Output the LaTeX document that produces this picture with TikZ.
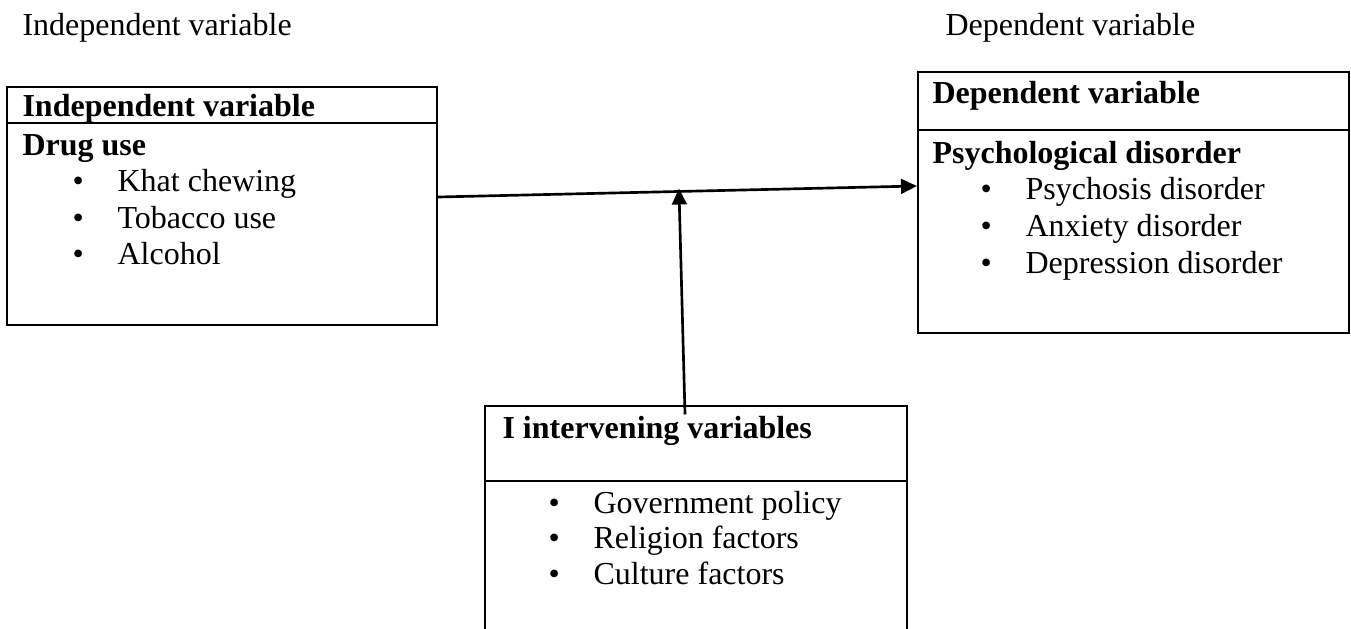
\documentclass[tikz,border=0pt]{standalone}
\usepackage{fontspec}
\setmainfont{Liberation Serif}
\usetikzlibrary{arrows.meta,positioning,fit,calc}
\tikzset{
  box/.style={draw, line width=0.75pt, inner sep=0pt},
  rule/.style={line width=0.75pt},
  txt/.style={anchor=base west, inner sep=0pt, font=\fontsize{12}{14}\selectfont},
  head/.style={txt, font=\fontsize{12}{14}\selectfont\bfseries},
  link/.style={line width=1pt, -{Triangle[length=6pt,width=5.5pt]}}
}
\newcommand{\itm}[1]{\makebox[16.9pt][l]{\textbullet}#1}
\begin{document}
\begin{tikzpicture}[x=0.375pt,y=-0.375pt]
\useasboundingbox (0,0) rectangle (1351,628);
\node[txt] (toplft) at (22,35) {Independent variable};
\node[txt] (toprgt) at (945,35) {Dependent variable};

\node[box, fit={(7,87) (437,325)}] (indep) {};
\draw[rule] ($(indep.north west)+(0,37)$) -- ($(indep.north east)+(0,37)$);
\node[head] (indephd) at (22,116) {Independent variable};
\node[head] (drug) at (22,155) {Drug use};
\node[txt] (khat) at (72,191) {\itm{Khat chewing}};
\node[txt] (tobac) at (72,228) {\itm{Tobacco use}};
\node[txt] (alco) at (72,264) {\itm{Alcohol}};

\node[box, fit={(918,72) (1349,333)}] (dep) {};
\draw[rule] ($(dep.north west)+(0,59)$) -- ($(dep.north east)+(0,59)$);
\node[head] (dephd) at (932,103) {Dependent variable};
\node[head] (psych) at (932,163) {Psychological disorder};
\node[txt] (psycho) at (980,199) {\itm{Psychosis disorder}};
\node[txt] (anx) at (980,236) {\itm{Anxiety disorder}};
\node[txt] (depr) at (980,273) {\itm{Depression disorder}};

\node[fit={(486,407) (906,628)}, inner sep=0pt] (interv) {};
\draw[rule] (interv.south west) |- (interv.north east) -- (interv.south east);
\draw[rule] ($(interv.north west)+(0,75)$) -- ($(interv.north east)+(0,75)$);
\node[head] (intervhd) at (502,438) {I intervening variables};
\node[txt] (gov) at (548,513) {\itm{Government policy}};
\node[txt] (relig) at (548,548) {\itm{Religion factors}};
\node[txt] (cult) at (548,584) {\itm{Culture factors}};

\draw[link] ($(indep.east)+(0,-9)$) -- coordinate[pos=0.503] (meet) ($(dep.west)+(0,-16.5)$);
\draw[link] ($(interv.north)+(-11,8)$) -- ($(meet)+(0,-3)$);
\end{tikzpicture}
\end{document}
